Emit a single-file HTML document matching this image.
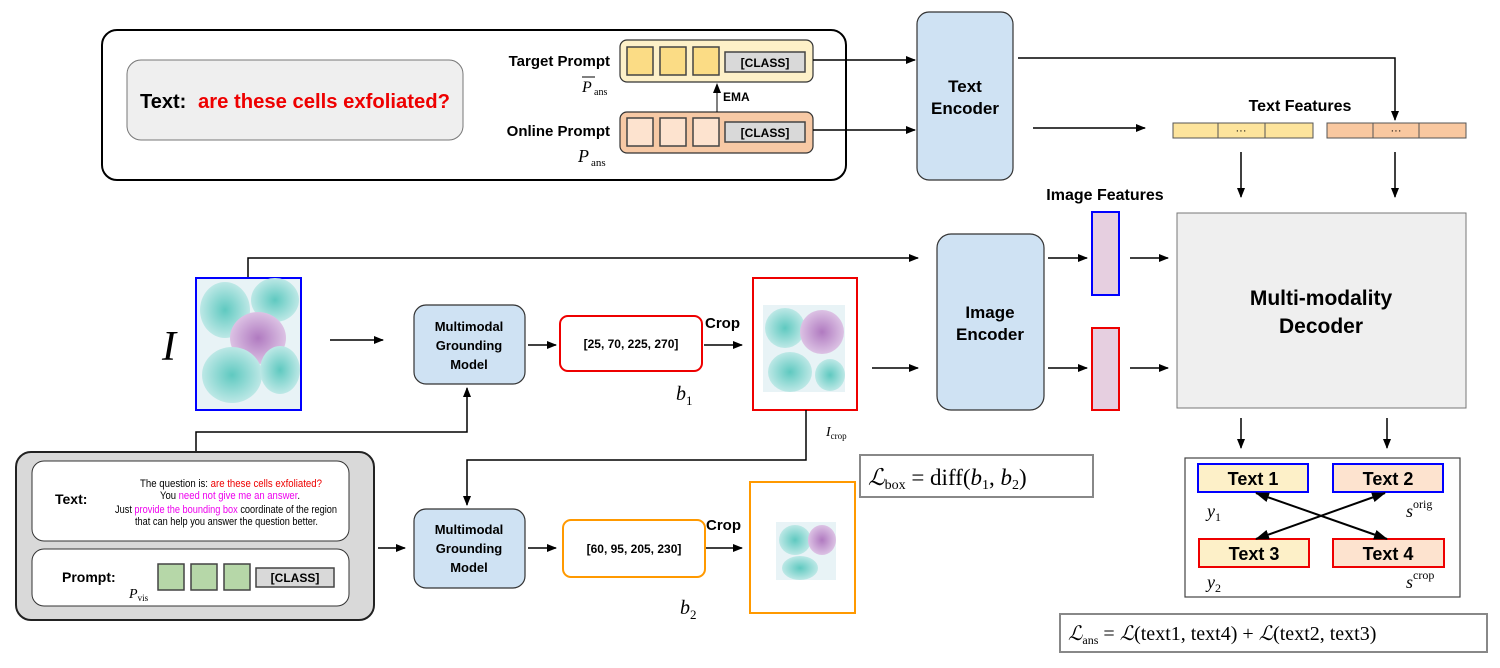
<!DOCTYPE html>
<html><head><meta charset="utf-8"><style>
body{margin:0;background:#fff;width:1500px;height:663px;overflow:hidden}
svg text{font-family:"Liberation Sans",sans-serif}
.b{font-weight:bold}
.m{font-family:"Liberation Serif",serif}
</style></head><body>
<svg width="1500" height="663" viewBox="0 0 1500 663" xmlns="http://www.w3.org/2000/svg">
<defs>
<marker id="a" markerWidth="10" markerHeight="8" refX="9" refY="4" orient="auto" markerUnits="userSpaceOnUse"><path d="M0,0 L10,4 L0,8 z" fill="#000"/></marker>
<marker id="as" markerWidth="14" markerHeight="10" refX="13" refY="5" orient="auto-start-reverse" markerUnits="userSpaceOnUse"><path d="M0,0 L14,5 L0,10 z" fill="#000"/></marker>
<radialGradient id="c1" cx="50%" cy="50%" r="50%"><stop offset="0" stop-color="#5fc9c0"/><stop offset="1" stop-color="#bde8e6"/></radialGradient>
<radialGradient id="c2" cx="50%" cy="50%" r="50%"><stop offset="0" stop-color="#b07ac0"/><stop offset="1" stop-color="#dcc2e4"/></radialGradient>
</defs>

<rect x="102" y="30" width="744" height="150" rx="15" fill="#fff" stroke="#000" stroke-width="2"/>
<rect x="127" y="60" width="336" height="80" rx="14" fill="#efefef" stroke="#777" stroke-width="1"/>
<text x="140" y="108" font-size="20" class="b">Text:</text>
<text x="198" y="108" font-size="20" class="b" fill="#e00" textLength="252" lengthAdjust="spacingAndGlyphs">are these cells exfoliated?</text>
<text x="610" y="66" font-size="15" class="b" text-anchor="end">Target Prompt</text>
<text x="582" y="92" font-size="16" class="m" font-style="italic">P</text><line x1="582" y1="77" x2="595" y2="77" stroke="#000"/><text x="594" y="95" font-size="10" class="m">ans</text>
<text x="610" y="136" font-size="15" class="b" text-anchor="end">Online Prompt</text>
<text x="578" y="162" font-size="18" class="m" font-style="italic">P</text><text x="591" y="166" font-size="11" class="m">ans</text>
<rect x="620" y="40" width="193" height="42" rx="7" fill="#fdf0c8" stroke="#333" stroke-width="1.2"/>
<rect x="627" y="47" width="26" height="28" fill="#fbdc85" stroke="#444" stroke-width="1.5"/>
<rect x="660" y="47" width="26" height="28" fill="#fbdc85" stroke="#444" stroke-width="1.5"/>
<rect x="693" y="47" width="26" height="28" fill="#fbdc85" stroke="#444" stroke-width="1.5"/>
<rect x="725" y="52" width="80" height="20" fill="#d9d9d9" stroke="#444" stroke-width="1.5"/>
<text x="765" y="67" font-size="12" class="b" text-anchor="middle">[CLASS]</text>
<rect x="620" y="112" width="193" height="41" rx="7" fill="#f7c9a5" stroke="#333" stroke-width="1.2"/>
<rect x="627" y="118" width="26" height="28" fill="#fde3cf" stroke="#444" stroke-width="1.5"/>
<rect x="660" y="118" width="26" height="28" fill="#fde3cf" stroke="#444" stroke-width="1.5"/>
<rect x="693" y="118" width="26" height="28" fill="#fde3cf" stroke="#444" stroke-width="1.5"/>
<rect x="725" y="122" width="80" height="20" fill="#d9d9d9" stroke="#444" stroke-width="1.5"/>
<text x="765" y="137" font-size="12" class="b" text-anchor="middle">[CLASS]</text>
<line x1="717" y1="112" x2="717" y2="84" stroke="#000" marker-end="url(#a)"/>
<text x="723" y="101" font-size="12" class="b">EMA</text>
<line x1="813" y1="60" x2="915" y2="60" stroke="#000" stroke-width="1.5" marker-end="url(#a)"/>
<line x1="813" y1="130" x2="915" y2="130" stroke="#000" stroke-width="1.5" marker-end="url(#a)"/>

<rect x="917" y="12" width="96" height="168" rx="12" fill="#cfe2f3" stroke="#333" stroke-width="1.2"/>
<text x="965" y="92" font-size="17" class="b" text-anchor="middle">Text</text>
<text x="965" y="114" font-size="17" class="b" text-anchor="middle">Encoder</text>
<polyline points="1018,58 1395,58 1395,120" fill="none" stroke="#000" stroke-width="1.5" marker-end="url(#a)"/>
<line x1="1033" y1="128" x2="1145" y2="128" stroke="#000" stroke-width="1.5" marker-end="url(#a)"/>
<text x="1300" y="111" font-size="16" class="b" text-anchor="middle">Text Features</text>
<rect x="1173" y="123" width="140" height="15" fill="#fde49c" stroke="#555"/>
<line x1="1218" y1="123" x2="1218" y2="138" stroke="#555"/><line x1="1265" y1="123" x2="1265" y2="138" stroke="#555"/>
<text x="1241" y="134" font-size="11" text-anchor="middle">···</text>
<rect x="1327" y="123" width="139" height="15" fill="#f9c8a0" stroke="#555"/>
<line x1="1373" y1="123" x2="1373" y2="138" stroke="#555"/><line x1="1419" y1="123" x2="1419" y2="138" stroke="#555"/>
<text x="1396" y="134" font-size="11" text-anchor="middle">···</text>
<line x1="1241" y1="152" x2="1241" y2="197" stroke="#000" stroke-width="1.5" marker-end="url(#a)"/>
<line x1="1395" y1="152" x2="1395" y2="197" stroke="#000" stroke-width="1.5" marker-end="url(#a)"/>

<rect x="1177" y="213" width="289" height="195" fill="#efefef" stroke="#777"/>
<text x="1321" y="305" font-size="21" class="b" text-anchor="middle">Multi-modality</text>
<text x="1321" y="333" font-size="21" class="b" text-anchor="middle">Decoder</text>
<text x="1105" y="200" font-size="16" class="b" text-anchor="middle">Image Features</text>
<rect x="1092" y="212" width="27" height="83" fill="#e6cfe0" stroke="#00f" stroke-width="2"/>
<rect x="1092" y="328" width="27" height="82" fill="#e6cfe0" stroke="#e00" stroke-width="2"/>
<line x1="1048" y1="258" x2="1087" y2="258" stroke="#000" stroke-width="1.5" marker-end="url(#a)"/>
<line x1="1130" y1="258" x2="1168" y2="258" stroke="#000" stroke-width="1.5" marker-end="url(#a)"/>
<line x1="1048" y1="368" x2="1087" y2="368" stroke="#000" stroke-width="1.5" marker-end="url(#a)"/>
<line x1="1130" y1="368" x2="1168" y2="368" stroke="#000" stroke-width="1.5" marker-end="url(#a)"/>

<rect x="937" y="234" width="107" height="176" rx="14" fill="#cfe2f3" stroke="#333" stroke-width="1.2"/>
<text x="990" y="318" font-size="17" class="b" text-anchor="middle">Image</text>
<text x="990" y="340" font-size="17" class="b" text-anchor="middle">Encoder</text>

<polyline points="248,278 248,258 918,258" fill="none" stroke="#000" stroke-width="1.5" marker-end="url(#a)"/>
<rect x="196" y="278" width="105" height="132" fill="#e8f3f6" stroke="#00f" stroke-width="2"/>
<ellipse cx="225" cy="310" rx="25" ry="28" fill="url(#c1)"/>
<ellipse cx="275" cy="300" rx="24" ry="22" fill="url(#c1)"/>
<ellipse cx="258" cy="338" rx="28" ry="26" fill="url(#c2)"/>
<ellipse cx="232" cy="375" rx="30" ry="28" fill="url(#c1)"/>
<ellipse cx="280" cy="370" rx="20" ry="24" fill="url(#c1)"/>
<text x="162" y="360" font-size="42" class="m" font-style="italic">I</text>
<line x1="330" y1="340" x2="383" y2="340" stroke="#000" stroke-width="1.5" marker-end="url(#a)"/>

<rect x="414" y="305" width="111" height="79" rx="12" fill="#cfe2f3" stroke="#333" stroke-width="1.2"/>
<text x="469" y="331" font-size="13" class="b" text-anchor="middle">Multimodal</text>
<text x="469" y="350" font-size="13" class="b" text-anchor="middle">Grounding</text>
<text x="469" y="369" font-size="13" class="b" text-anchor="middle">Model</text>
<line x1="528" y1="345" x2="556" y2="345" stroke="#000" stroke-width="1.5" marker-end="url(#a)"/>
<rect x="560" y="316" width="142" height="55" rx="8" fill="#fff" stroke="#e00" stroke-width="2"/>
<text x="631" y="348" font-size="12" class="b" text-anchor="middle">[25, 70, 225, 270]</text>
<text x="705" y="328" font-size="15" class="b">Crop</text>
<line x1="704" y1="345" x2="742" y2="345" stroke="#000" stroke-width="1.5" marker-end="url(#a)"/>
<text x="676" y="400" font-size="20" class="m" font-style="italic">b<tspan font-size="13" font-style="normal" dy="5">1</tspan></text>
<rect x="753" y="278" width="104" height="132" fill="#fff" stroke="#e00" stroke-width="2"/>
<rect x="763" y="305" width="82" height="87" fill="#e8f3f6"/>
<ellipse cx="785" cy="328" rx="20" ry="20" fill="url(#c1)"/>
<ellipse cx="822" cy="332" rx="22" ry="22" fill="url(#c2)"/>
<ellipse cx="790" cy="372" rx="22" ry="20" fill="url(#c1)"/>
<ellipse cx="830" cy="375" rx="15" ry="16" fill="url(#c1)"/>
<line x1="872" y1="368" x2="918" y2="368" stroke="#000" stroke-width="1.5" marker-end="url(#a)"/>
<text x="826" y="436" font-size="14" class="m" font-style="italic">I<tspan font-size="9" font-style="normal" dy="3">crop</tspan></text>
<polyline points="806,410 806,460 467,460 467,505" fill="none" stroke="#000" stroke-width="1.5" marker-end="url(#a)"/>
<polyline points="196,452 196,432 467,432 467,388" fill="none" stroke="#000" stroke-width="1.5" marker-end="url(#a)"/>

<rect x="860" y="455" width="233" height="42" fill="#fff" stroke="#888" stroke-width="2"/>
<text x="868" y="485" font-size="23" class="m"><tspan font-style="italic">ℒ</tspan><tspan font-size="14" dy="4">box</tspan><tspan dy="-4"> = diff(</tspan><tspan font-style="italic">b</tspan><tspan font-size="14" dy="4">1</tspan><tspan dy="-4">, </tspan><tspan font-style="italic">b</tspan><tspan font-size="14" dy="4">2</tspan><tspan dy="-4">)</tspan></text>

<rect x="16" y="452" width="358" height="168" rx="15" fill="#d9d9d9" stroke="#222" stroke-width="2"/>
<rect x="32" y="461" width="317" height="80" rx="12" fill="#fff" stroke="#333"/>
<rect x="32" y="549" width="317" height="57" rx="12" fill="#fff" stroke="#333"/>
<text x="55" y="504" font-size="14" class="b">Text:</text>
<g font-size="11">
<text x="140" y="487" textLength="182" lengthAdjust="spacingAndGlyphs">The question is: <tspan fill="#e00">are these cells exfoliated?</tspan></text>
<text x="160" y="499" textLength="140" lengthAdjust="spacingAndGlyphs">You <tspan fill="#e0e">need not give me an answer</tspan>.</text>
<text x="115" y="513" textLength="222" lengthAdjust="spacingAndGlyphs">Just <tspan fill="#e0e">provide the bounding box</tspan> coordinate of the region</text>
<text x="135" y="525" textLength="183" lengthAdjust="spacingAndGlyphs">that can help you answer the question better.</text>
</g>
<text x="62" y="582" font-size="14" class="b">Prompt:</text>
<text x="129" y="598" font-size="14" class="m" font-style="italic">P<tspan font-size="9" font-style="normal" dy="3">vis</tspan></text>
<rect x="158" y="564" width="26" height="26" fill="#b6d7a8" stroke="#444" stroke-width="1.5"/>
<rect x="191" y="564" width="26" height="26" fill="#b6d7a8" stroke="#444" stroke-width="1.5"/>
<rect x="224" y="564" width="26" height="26" fill="#b6d7a8" stroke="#444" stroke-width="1.5"/>
<rect x="256" y="568" width="78" height="19" fill="#d9d9d9" stroke="#444" stroke-width="1.5"/>
<text x="295" y="582" font-size="12" class="b" text-anchor="middle">[CLASS]</text>
<line x1="378" y1="548" x2="405" y2="548" stroke="#000" stroke-width="1.5" marker-end="url(#a)"/>

<rect x="414" y="509" width="111" height="79" rx="12" fill="#cfe2f3" stroke="#333" stroke-width="1.2"/>
<text x="469" y="534" font-size="13" class="b" text-anchor="middle">Multimodal</text>
<text x="469" y="553" font-size="13" class="b" text-anchor="middle">Grounding</text>
<text x="469" y="572" font-size="13" class="b" text-anchor="middle">Model</text>
<line x1="528" y1="548" x2="556" y2="548" stroke="#000" stroke-width="1.5" marker-end="url(#a)"/>
<rect x="563" y="520" width="142" height="57" rx="8" fill="#fff" stroke="#f90" stroke-width="2"/>
<text x="634" y="553" font-size="12" class="b" text-anchor="middle">[60, 95, 205, 230]</text>
<text x="706" y="530" font-size="15" class="b">Crop</text>
<line x1="706" y1="548" x2="742" y2="548" stroke="#000" stroke-width="1.5" marker-end="url(#a)"/>
<text x="680" y="614" font-size="20" class="m" font-style="italic">b<tspan font-size="13" font-style="normal" dy="5">2</tspan></text>
<rect x="750" y="482" width="105" height="131" fill="#fff" stroke="#f90" stroke-width="2"/>
<rect x="776" y="522" width="60" height="58" fill="#e8f3f6"/>
<ellipse cx="795" cy="540" rx="16" ry="15" fill="url(#c1)"/>
<ellipse cx="822" cy="540" rx="14" ry="15" fill="url(#c2)"/>
<ellipse cx="800" cy="568" rx="18" ry="12" fill="url(#c1)"/>

<line x1="1241" y1="418" x2="1241" y2="448" stroke="#000" stroke-width="1.5" marker-end="url(#a)"/>
<line x1="1387" y1="418" x2="1387" y2="448" stroke="#000" stroke-width="1.5" marker-end="url(#a)"/>
<rect x="1185" y="458" width="275" height="139" fill="#fff" stroke="#444" stroke-width="1.2"/>
<rect x="1198" y="464" width="110" height="28" fill="#fdf0c8" stroke="#00f" stroke-width="2"/>
<rect x="1333" y="464" width="110" height="28" fill="#fde3cf" stroke="#00f" stroke-width="2"/>
<rect x="1199" y="539" width="110" height="28" fill="#fdf0c8" stroke="#e00" stroke-width="2"/>
<rect x="1333" y="539" width="111" height="28" fill="#fde3cf" stroke="#e00" stroke-width="2"/>
<text x="1253" y="485" font-size="18" class="b" text-anchor="middle">Text 1</text>
<text x="1388" y="485" font-size="18" class="b" text-anchor="middle">Text 2</text>
<text x="1254" y="560" font-size="18" class="b" text-anchor="middle">Text 3</text>
<text x="1388" y="560" font-size="18" class="b" text-anchor="middle">Text 4</text>
<line x1="1256" y1="493" x2="1387" y2="539" stroke="#000" stroke-width="2" marker-start="url(#as)" marker-end="url(#as)"/>
<line x1="1385" y1="493" x2="1256" y2="539" stroke="#000" stroke-width="2" marker-start="url(#as)" marker-end="url(#as)"/>
<text x="1207" y="517" font-size="18" class="m" font-style="italic">y<tspan font-size="12" font-style="normal" dy="4">1</tspan></text>
<text x="1406" y="517" font-size="18" class="m" font-style="italic">s<tspan font-size="12" font-style="normal" dy="-9">orig</tspan></text>
<text x="1207" y="588" font-size="18" class="m" font-style="italic">y<tspan font-size="12" font-style="normal" dy="4">2</tspan></text>
<text x="1406" y="588" font-size="18" class="m" font-style="italic">s<tspan font-size="12" font-style="normal" dy="-9">crop</tspan></text>
<rect x="1060" y="614" width="427" height="38" fill="#fff" stroke="#888" stroke-width="2"/>
<text x="1068" y="640" font-size="20" class="m"><tspan font-style="italic">ℒ</tspan><tspan font-size="12" dy="4">ans</tspan><tspan dy="-4"> = </tspan><tspan font-style="italic">ℒ</tspan>(text1, text4)  +  <tspan font-style="italic">ℒ</tspan>(text2, text3)</text>
</svg>
</body></html>
